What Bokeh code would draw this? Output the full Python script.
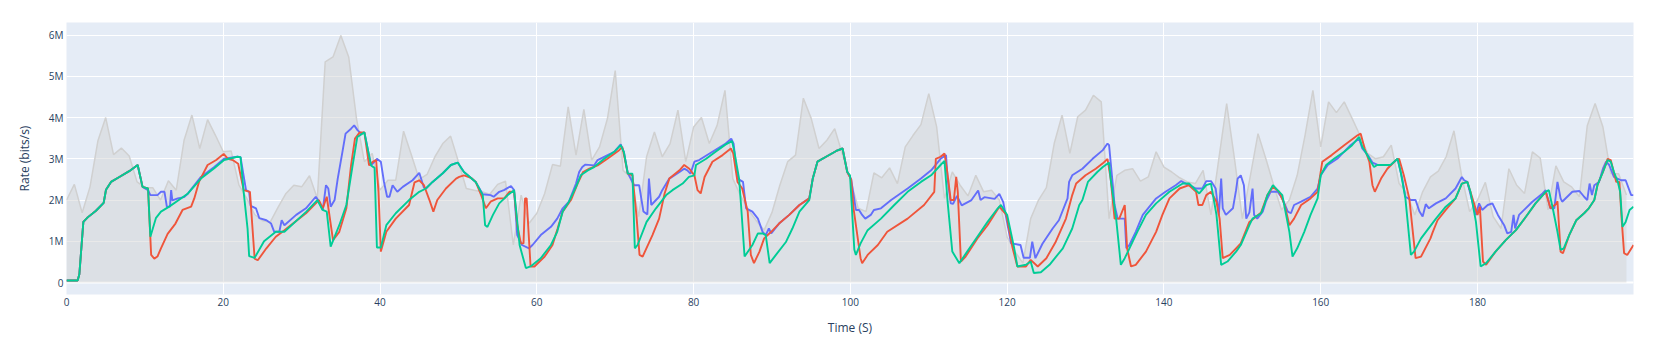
import numpy as np
from bokeh.plotting import figure
from bokeh.models import Range1d, FixedTicker, Span
from bokeh.embed import file_html
from bokeh.resources import INLINE

# ---------------- data (rates in Mbit/s) ----------------
capacity_t = list(range(0, 200))
capacity_rate = [
    2.0, 2.38, 1.69, 2.32, 3.43, 4.0, 3.1, 3.26, 3.07, 2.44,
    2.3, 2.3, 2.0, 2.47, 2.24, 3.45, 4.06, 3.25, 3.95, 3.57,
    3.17, 3.19, 2.36, 2.04, 1.65, 1.5, 1.47, 1.83, 2.16, 2.36,
    2.32, 2.59, 2.04, 5.35, 5.47, 5.99, 5.47, 3.97, 2.93, 3.13,
    2.24, 2.48, 2.48, 3.67, 3.09, 2.5, 2.62, 3.05, 3.37, 3.55,
    2.93, 2.28, 2.24, 2.2, 2.14, 2.38, 2.46, 0.91, 2.12, 1.43,
    1.68, 2.16, 2.86, 2.82, 4.26, 3.09, 4.2, 2.97, 3.29, 3.97,
    5.14, 2.72, 2.55, 1.6, 3.05, 3.65, 3.05, 3.37, 4.18, 2.93,
    3.77, 4.0, 3.37, 3.81, 4.66, 2.52, 2.1, 1.76, 1.5, 1.27,
    1.7, 2.36, 2.93, 3.09, 4.47, 3.98, 3.25, 3.45, 3.73, 3.1,
    2.5, 1.8, 1.72, 2.66, 2.54, 2.78, 2.4, 3.29, 3.57, 3.83,
    4.58, 3.78, 2.04, 2.68, 2.36, 2.1, 2.6, 2.2, 2.24, 2.0,
    1.1, 0.75, 0.47, 1.55, 2.0, 2.3, 3.37, 4.06, 3.13, 4.02,
    4.18, 4.54, 4.38, 1.55, 2.6, 2.72, 2.76, 2.46, 2.56, 3.17,
    2.8, 2.68, 2.54, 2.44, 2.4, 2.72, 1.64, 3.0, 4.34, 3.0,
    1.55, 2.56, 3.61, 3.0, 2.36, 1.76, 2.0, 2.6, 3.57, 4.66,
    3.29, 4.38, 4.12, 4.38, 3.98, 3.57, 3.13, 3.0, 3.05, 3.33,
    2.4, 2.16, 1.64, 2.2, 2.56, 2.7, 3.05, 3.68, 2.56, 1.72,
    2.0, 2.43, 1.6, 1.31, 2.76, 2.36, 2.16, 3.17, 3.02, 1.76,
    2.83, 2.44, 2.32, 2.08, 3.8, 4.34, 3.77, 2.64, 2.64, 2.12,
]

blue_t = [0, 1.42, 1.64, 2.15, 2.7, 3.76, 4.74, 5.04, 5.68, 6.74, 8.0, 9.08, 9.7, 10.4, 10.7, 11.6, 12.05, 12.5,
          12.8, 13.2, 13.35, 13.5, 14.2, 15.0, 15.5, 17.15, 18.85, 20.1, 21.8, 22.2, 22.9, 23.3, 23.5, 24.17, 24.6,
          25.5, 26.1, 26.5, 27.15, 27.45, 27.8, 29.3, 30.55, 31.8, 32.1, 32.7, 33.1, 33.4, 33.7, 34.2, 34.6, 35.2,
          35.6, 36.3, 36.7, 37.15, 37.6, 38.0, 38.85, 39.3, 39.6, 40.1, 40.5, 40.9, 41.2, 41.6, 42.2, 42.9, 44.15,
          45.0, 45.6, 45.85, 46.7, 48.0, 49.04, 49.9, 50.7, 51.2, 52.2, 53.1, 54.1, 54.5, 55.2, 55.8, 56.7, 57.1,
          57.5, 58.1, 59.0, 59.45, 60.5, 61.8, 62.6, 63.3, 64.1, 65.0, 65.4, 65.8, 66.2, 67.3, 67.75, 69.87, 70.7,
          71.1, 71.6, 72.4, 73.05, 73.6, 74.1, 74.3, 74.6, 75.6, 76.0, 76.9, 78.2, 78.8, 79.2, 79.6, 80.1, 80.7,
          82.4, 84.1, 84.8, 85.1, 85.6, 86.3, 86.7, 87.5, 88.2, 88.8, 89.2, 89.6, 89.9, 90.9, 92.2, 93.5, 94.75,
          95.2, 95.8, 96.9, 98.2, 99.0, 99.6, 100.1, 100.7, 101.1, 101.5, 101.9, 102.6, 103.0, 103.9, 105.2, 107.3,
          109.0, 110.3, 111.5, 112.2, 112.4, 112.8, 113.1, 113.6, 114.2, 115.4, 116.3, 116.6, 117.1, 118.4, 119.0,
          119.5, 120.5, 121.7, 122.1, 122.9, 123.2, 123.6, 124.5, 125.8, 126.6, 127.7, 127.9, 128.3, 129.6, 130.9,
          132.2, 132.8, 133.0, 133.4, 133.7, 134.1, 135.0, 135.2, 135.6, 136.4, 137.3, 139.0, 140.2, 141.5, 142.2,
          142.8, 144.1, 144.9, 145.4, 146.0, 146.6, 147.0, 147.3, 147.5, 147.9, 148.8, 149.2, 149.4, 149.8, 150.2,
          150.5, 150.9, 151.3, 151.5, 151.9, 152.6, 153.0, 153.6, 154.5, 155.1, 155.8, 156.2, 156.6, 157.5, 158.7,
          159.6, 160.0, 160.9, 162.1, 163.8, 164.9, 165.3, 166.0, 166.6, 167.2, 168.9, 169.8, 170.4, 170.8, 171.5,
          172.1, 172.6, 173.0, 173.4, 173.8, 174.7, 175.95, 177.2, 178.0, 178.3, 178.7, 179.4, 179.8, 180.2, 180.6,
          181.3, 181.9, 182.6, 183.4, 183.8, 184.3, 184.6, 184.8, 185.3, 187.0, 188.3, 188.7, 189.3, 189.8, 190.2,
          190.6, 190.8, 192.1, 193.0, 193.6, 194.0, 194.3, 194.6, 194.9, 195.5, 196.0, 196.4, 196.8, 197.4, 198.3,
          198.9, 199.6, 199.9]
blue_rate = [0.05, 0.05, 0.2, 1.47, 1.58, 1.74, 1.93, 2.25, 2.44, 2.56, 2.7, 2.85, 2.32, 2.24, 2.12, 2.12, 2.2, 2.2,
             1.84, 1.84, 2.24, 1.99, 2.04, 2.07, 2.16, 2.56, 2.8, 3.0, 3.05, 3.04, 2.24, 2.2, 1.86, 1.8, 1.56,
             1.51, 1.43, 1.23, 1.23, 1.51, 1.39, 1.64, 1.8, 2.08, 2.0, 1.76, 2.36, 2.28, 1.84, 2.0, 2.52, 3.17,
             3.61, 3.73, 3.81, 3.69, 3.61, 3.64, 2.84, 2.93, 3.0, 2.93, 2.44, 2.08, 2.08, 2.36, 2.2, 2.32, 2.48,
             2.66, 2.3, 2.28, 2.44, 2.65, 2.85, 2.91, 2.68, 2.6, 2.44, 2.14, 2.12, 2.08, 2.2, 2.24, 2.34, 2.24,
             1.15, 0.91, 0.83, 0.91, 1.15, 1.35, 1.55, 1.8, 1.96, 2.4, 2.68, 2.8, 2.86, 2.84, 2.97, 3.17, 3.35,
             3.17, 2.66, 2.36, 2.36, 1.72, 1.65, 2.52, 1.88, 2.08, 2.24, 2.52, 2.68, 2.76, 2.72, 2.64, 2.93, 2.97,
             3.17, 3.37, 3.49, 3.37, 2.52, 2.44, 1.8, 1.72, 1.55, 1.23, 1.15, 1.31, 1.19, 1.43, 1.64, 1.88, 2.04,
             2.52, 2.93, 3.05, 3.19, 3.25, 2.68, 2.5, 1.76, 1.76, 1.64, 1.55, 1.64, 1.76, 1.8, 2.0, 2.28,
             2.52, 2.72, 3.0, 3.09, 2.52, 1.92, 1.91, 2.1, 1.87, 1.99, 2.23, 2.0, 2.07, 2.03, 2.15,
             1.95, 0.95, 0.91, 0.6, 0.6, 0.99, 0.59, 0.94, 1.31, 1.51, 2.04, 2.44, 2.6, 2.76, 3.0,
             3.21, 3.37, 3.33, 2.52, 1.88, 1.55, 1.55, 0.83, 0.91, 1.23, 1.64, 2.04, 2.2, 2.36, 2.46,
             2.4, 2.28, 2.28, 2.46, 2.46, 2.28, 1.64, 2.52, 1.8, 1.64, 1.8, 2.24, 2.52, 2.6, 2.36,
             1.55, 1.7, 2.28, 1.64, 1.55, 1.72, 1.96, 2.2, 2.2, 2.04, 1.72, 1.68, 1.88, 1.96, 2.08,
             2.28, 2.6, 2.85, 3.0, 3.33, 3.49, 3.25, 3.09, 2.91, 2.86, 2.84, 3.0, 2.52, 2.08, 2.0,
             2.0, 1.72, 1.6, 1.9, 1.8, 1.92, 2.04, 2.28, 2.56, 2.48, 2.44, 1.92, 1.64, 1.92, 1.76,
             1.88, 1.92, 1.64, 1.39, 1.19, 1.23, 1.64, 1.31, 1.64, 1.96, 2.16, 2.24, 1.8, 1.8, 2.44,
             2.04, 1.96, 2.2, 2.22, 2.08, 2.0, 2.4, 2.12, 2.36, 2.44, 2.76, 2.93, 2.85, 2.56, 2.48,
             2.48, 2.12, 2.12]

red_t = [0, 1.42, 1.64, 2.15, 2.7, 3.76, 4.74, 5.04, 5.68, 6.74, 8.0, 9.08, 9.7, 10.4, 10.8, 11.2, 11.6, 12.05,
         12.9, 13.9, 14.8, 15.9, 16.3, 16.9, 18.0, 19.1, 20.05, 20.6, 21.2, 21.9, 22.6, 23.4, 24.0, 24.4, 25.5,
         26.7, 27.8, 30.55, 32.2, 32.7, 33.2, 34.0, 34.8, 35.7, 36.3, 36.8, 37.4, 38.0, 38.6, 39.1, 39.5, 39.8,
         40.1, 40.8, 42.0, 43.7, 44.4, 45.0, 45.6, 46.3, 46.8, 47.3, 48.4, 49.7, 50.1, 50.7, 51.6, 52.2, 52.9,
         53.5, 54.1, 55.0, 55.85, 56.5, 57.1, 57.5, 57.97, 58.3, 58.5, 58.7, 58.95, 59.2, 59.7, 61.0, 62.0, 62.65,
         63.3, 64.35, 65.2, 65.9, 66.7, 67.75, 69.0, 70.5, 70.9, 71.6, 72.2, 72.7, 73.1, 73.5, 74.75, 75.6, 76.3,
         76.9, 78.2, 78.8, 79.45, 80.1, 80.5, 80.9, 81.4, 82.4, 83.7, 84.75, 85.05, 85.6, 86.2, 86.9, 87.3, 87.7,
         88.4, 89.0, 89.9, 90.9, 92.2, 93.5, 94.75, 95.2, 95.8, 96.9, 98.2, 99.0, 99.6, 100.1, 100.4, 101.3,
         101.5, 102.2, 103.5, 104.7, 107.3, 109.4, 110.7, 110.9, 111.5, 112.0, 112.3, 112.8, 113.2, 113.5, 113.7,
         114.1, 114.7, 116.2, 117.5, 119.0, 119.9, 120.7, 121.3, 122.4, 123.0, 123.9, 125.0, 126.2, 127.5, 128.3,
         128.8, 130.0, 131.3, 132.2, 132.8, 133.2, 133.7, 134.3, 135.0, 135.3, 135.8, 136.4, 137.7, 139.0, 139.8,
         140.7, 142.0, 143.2, 144.1, 144.4, 144.9, 145.4, 146.0, 146.7, 147.1, 147.5, 148.4, 149.2, 149.8, 150.9,
         152.4, 153.2, 153.9, 154.7, 155.4, 156.0, 156.6, 157.5, 158.7, 159.6, 160.2, 161.4, 163.0, 164.7, 165.1,
         165.6, 166.2, 166.6, 166.9, 167.7, 168.5, 169.6, 170.0, 170.6, 171.3, 172.1, 172.8, 174.0, 174.3, 174.9,
         175.95, 177.2, 178.0, 178.7, 179.1, 180.0, 180.3, 180.7, 181.1, 182.3, 183.6, 184.9, 186.2, 187.4, 188.7,
         189.3, 190.0, 190.2, 190.6, 190.9, 191.7, 192.6, 193.6, 194.2, 194.9, 195.3, 196.0, 196.6, 197.0, 197.7,
         198.1, 198.4, 198.7, 199.1, 199.9]
red_rate = [0.05, 0.05, 0.2, 1.47, 1.58, 1.74, 1.93, 2.25, 2.44, 2.56, 2.7, 2.85, 2.32, 2.28, 0.67, 0.58, 0.63, 0.83,
            1.18, 1.43, 1.76, 1.84, 2.04, 2.44, 2.85, 2.97, 3.12, 3.0, 2.97, 2.88, 2.24, 2.2, 0.58, 0.54, 0.83,
            1.11, 1.27, 1.68, 2.0, 1.8, 2.08, 1.03, 1.23, 1.8, 2.84, 3.49, 3.64, 3.64, 2.84, 2.93, 2.97, 2.2,
            0.75, 1.23, 1.55, 1.88, 2.43, 2.48, 2.36, 2.0, 1.72, 2.0, 2.28, 2.52, 2.56, 2.6, 2.54, 2.44, 2.12,
            1.8, 1.96, 2.04, 2.04, 2.2, 2.2, 1.39, 0.95, 0.95, 2.04, 2.04, 1.2, 0.39, 0.39, 0.63, 0.91, 1.31,
            1.72, 2.0, 2.4, 2.68, 2.76, 2.84, 3.0, 3.21, 3.29, 2.64, 2.6, 1.64, 0.67, 0.63, 1.15, 1.55, 2.16,
            2.52, 2.72, 2.85, 2.76, 2.6, 2.24, 2.16, 2.56, 2.93, 3.09, 3.25, 3.13, 2.44, 2.28, 1.72, 0.67, 0.47,
            0.75, 1.07, 1.23, 1.43, 1.64, 1.88, 2.04, 2.52, 2.93, 3.05, 3.19, 3.25, 2.68, 2.5, 1.8, 0.59,
            0.47, 0.67, 0.91, 1.23, 1.55, 1.88, 2.2, 3.0, 3.05, 3.13, 2.76, 2.0, 2.0, 2.56, 2.2,
            0.51, 0.63, 1.07, 1.39, 1.84, 1.64, 0.83, 0.39, 0.39, 0.55, 0.39, 0.59, 0.99, 1.55, 2.12,
            2.4, 2.6, 2.76, 2.89, 3.0, 2.52, 1.55, 1.55, 1.88, 0.83, 0.39, 0.43, 0.75, 1.23, 1.64,
            2.04, 2.28, 2.36, 2.2, 1.88, 1.88, 2.12, 2.2, 1.96, 1.55, 0.59, 0.67, 0.83, 0.95, 1.47,
            1.7, 2.12, 2.32, 2.2, 1.88, 1.39, 1.55, 1.88, 2.04, 2.2, 2.93, 3.09, 3.33, 3.57, 3.61,
            3.25, 2.93, 2.36, 2.2, 2.52, 2.76, 2.97, 3.0, 2.6, 2.04, 0.59, 0.63, 1.07, 1.23, 1.51,
            1.76, 2.04, 2.4, 2.44, 2.2, 1.64, 1.84, 0.51, 0.43, 0.75, 1.03, 1.27, 1.6, 1.92, 2.2,
            1.8, 1.9, 1.97, 0.75, 0.71, 1.15, 1.51, 1.68, 1.8, 2.0, 2.36, 2.68, 3.0, 2.97, 2.44,
            2.44, 1.5, 0.71, 0.67, 0.91]

green_t = [0, 1.42, 1.64, 2.15, 2.7, 3.76, 4.74, 5.04, 5.68, 6.74, 8.0, 9.08, 9.7, 10.4, 10.7, 11.4, 12.05, 13.1,
           14.6, 15.5, 17.15, 18.85, 20.1, 21.8, 22.2, 22.6, 23.1, 23.3, 24.0, 25.2, 26.7, 27.8, 30.6, 32.0, 32.67,
           33.2, 33.7, 34.8, 35.7, 36.5, 37.1, 38.0, 38.85, 39.3, 39.6, 40.1, 40.8, 42.0, 43.7, 45.0, 45.85, 46.7,
           48.0, 49.04, 49.9, 50.7, 51.2, 52.2, 53.1, 53.4, 53.7, 54.4, 55.2, 56.3, 57.1, 57.8, 58.6, 59.2, 60.5,
           61.8, 62.6, 63.3, 64.1, 65.0, 65.6, 66.5, 67.3, 68.6, 69.87, 70.7, 71.1, 71.6, 72.2, 72.5, 72.85, 74.0,
           75.2, 76.5, 77.3, 78.6, 79.4, 80.1, 80.3, 81.6, 82.8, 84.1, 84.9, 85.2, 85.8, 86.05, 86.5, 87.5, 88.2,
           88.8, 89.2, 89.7, 90.5, 91.8, 92.6, 93.5, 94.75, 95.2, 95.8, 96.9, 98.2, 99.0, 99.6, 99.95, 100.5,
           100.7, 101.3, 102.2, 103.9, 105.6, 107.3, 109.0, 110.3, 111.5, 112.0, 112.4, 113.0, 113.9, 114.9, 116.2,
           117.5, 118.8, 119.2, 120.0, 120.9, 121.3, 122.4, 123.0, 123.4, 124.3, 125.4, 127.1, 128.3, 129.2, 129.6,
           130.3, 131.5, 132.2, 133.0, 133.2, 133.9, 134.5, 135.0, 135.6, 136.6, 137.7, 139.0, 140.7, 142.4, 143.2,
           144.5, 145.4, 146.0, 146.7, 147.3, 148.1, 149.2, 149.8, 150.9, 151.3, 152.4, 152.8, 153.2, 153.9, 154.7,
           155.1, 156.0, 156.4, 157.0, 157.9, 158.7, 159.6, 160.0, 160.7, 161.7, 163.0, 164.0, 164.9, 165.3, 165.7,
           166.4, 166.8, 167.2, 168.9, 169.8, 170.2, 170.8, 171.5, 171.9, 172.8, 174.7, 175.95, 177.2, 178.0, 178.7,
           179.1, 179.8, 180.4, 181.1, 182.3, 183.6, 184.9, 186.2, 187.4, 188.7, 189.1, 189.6, 190.2, 190.6, 191.0,
           191.7, 192.6, 193.6, 194.2, 194.9, 195.3, 196.0, 196.6, 197.0, 197.4, 197.9, 198.2, 198.5, 198.9, 199.4,
           199.9]
green_rate = [0.05, 0.05, 0.2, 1.47, 1.58, 1.74, 1.93, 2.25, 2.44, 2.56, 2.7, 2.85, 2.32, 2.28, 1.11, 1.56, 1.72, 1.84,
              2.04, 2.16, 2.52, 2.77, 2.97, 3.05, 3.04, 2.2, 1.3, 0.64, 0.6, 1.0, 1.23, 1.23, 1.72, 2.0, 1.76,
              1.72, 0.87, 1.39, 1.88, 2.84, 3.53, 3.64, 2.84, 2.78, 0.85, 0.85, 1.39, 1.68, 2.0, 2.2, 2.28, 2.44,
              2.65, 2.85, 2.91, 2.68, 2.6, 2.44, 2.12, 1.39, 1.35, 1.64, 1.92, 2.12, 2.24, 0.91, 0.35, 0.39, 0.59,
              0.91, 1.23, 1.72, 1.96, 2.32, 2.6, 2.72, 2.8, 3.0, 3.17, 3.33, 3.17, 2.64, 2.64, 0.83, 0.91, 1.47,
              1.8, 2.12, 2.24, 2.4, 2.56, 2.6, 2.85, 3.0, 3.17, 3.35, 3.43, 3.17, 2.52, 1.88, 0.63, 0.91, 1.19,
              1.19, 1.15, 0.47, 0.67, 0.99, 1.31, 1.72, 2.0, 2.52, 2.93, 3.05, 3.19, 3.25, 2.68, 2.6, 0.8,
              0.67, 0.95, 1.27, 1.55, 1.88, 2.2, 2.44, 2.6, 2.85, 2.95, 1.96, 0.75, 0.47, 0.75, 1.11,
              1.47, 1.8, 1.88, 1.64, 0.83, 0.39, 0.43, 0.51, 0.23, 0.25, 0.43, 0.83, 1.31, 1.88, 2.0,
              2.44, 2.68, 2.8, 2.91, 2.52, 1.55, 0.43, 0.59, 0.83, 1.23, 1.64, 1.92, 2.2, 2.4, 2.4,
              2.16, 2.36, 2.4, 1.64, 0.43, 0.51, 0.75, 0.91, 1.39, 1.55, 1.68, 1.88, 2.12, 2.36, 2.2,
              2.12, 1.23, 0.63, 0.83, 1.23, 1.64, 2.04, 2.6, 2.85, 3.0, 3.17, 3.33, 3.53, 3.29, 3.17,
              2.93, 2.8, 2.85, 2.85, 3.0, 2.68, 2.04, 0.67, 0.75, 1.07, 1.55, 1.84, 2.04, 2.4, 2.44,
              2.2, 1.47, 0.39, 0.47, 0.75, 1.03, 1.27, 1.6, 1.92, 2.2, 2.24, 1.8, 1.23, 0.79, 0.83,
              1.15, 1.51, 1.68, 1.8, 2.0, 2.36, 2.68, 2.97, 2.93, 2.68, 2.44, 2.2, 1.35, 1.47, 1.76,
              1.84]

x_ticks = [0, 20, 40, 60, 80, 100, 120, 140, 160, 180]
y_ticks = [0, 1e6, 2e6, 3e6, 4e6, 5e6, 6e6]
y_tick_labels = ["0", "1M", "2M", "3M", "4M", "5M", "6M"]

MEGA = 1e6
FONT = "Open Sans"
TEXT = "#2a3f5f"

p = figure(width=1679, height=354, output_backend="svg", toolbar_location=None,
           x_range=Range1d(0, 199.9), y_range=Range1d(-0.29e6, 6.305e6),
           min_border_left=66, min_border_right=46, min_border_top=22, min_border_bottom=60)
p.background_fill_color = "#E5ECF6"
p.border_fill_color = "white"
p.outline_line_color = None

# grid
p.xgrid.ticker = FixedTicker(ticks=x_ticks)
p.ygrid.ticker = FixedTicker(ticks=y_ticks)
for g in (p.xgrid, p.ygrid):
    g.grid_line_color = "white"
    g.grid_line_width = 1
p.add_layout(Span(location=0, dimension="width", line_color="white", line_width=2, level="underlay"))

# axes
p.xaxis.ticker = FixedTicker(ticks=x_ticks)
p.yaxis.ticker = FixedTicker(ticks=y_ticks)
p.yaxis.major_label_overrides = {t: lab for t, lab in zip(y_ticks, y_tick_labels)}
for ax in (p.xaxis, p.yaxis):
    ax.axis_line_color = None
    ax.major_tick_line_color = None
    ax.minor_tick_line_color = None
    ax.major_tick_out = 0
    ax.major_tick_in = 0
    ax.major_label_text_font = FONT
    ax.major_label_text_font_size = "10px"
    ax.major_label_text_color = TEXT
    ax.axis_label_text_font = FONT
    ax.axis_label_text_font_size = "12px"
    ax.axis_label_text_font_style = "normal"
    ax.axis_label_text_color = TEXT
p.xaxis.axis_label = "Time (S)"
p.yaxis.axis_label = "Rate (bits/s)"
p.xaxis.major_label_standoff = 3
p.yaxis.major_label_standoff = 3
p.xaxis.axis_label_standoff = 10
p.yaxis.axis_label_standoff = 13

cap_y = np.array(capacity_rate) * MEGA
p.varea(x=capacity_t, y1=0, y2=cap_y, fill_color="#d3d3d3", fill_alpha=0.5)
p.line(capacity_t, cap_y, line_color="#d0d0d0", line_width=1.5)

p.line(blue_t, np.array(blue_rate) * MEGA, line_color="#636efa", line_width=1.9)
p.line(red_t, np.array(red_rate) * MEGA, line_color="#EF553B", line_width=1.9)
p.line(green_t, np.array(green_rate) * MEGA, line_color="#00cc96", line_width=1.9)

open("out.html", "w").write(file_html(p, INLINE))
